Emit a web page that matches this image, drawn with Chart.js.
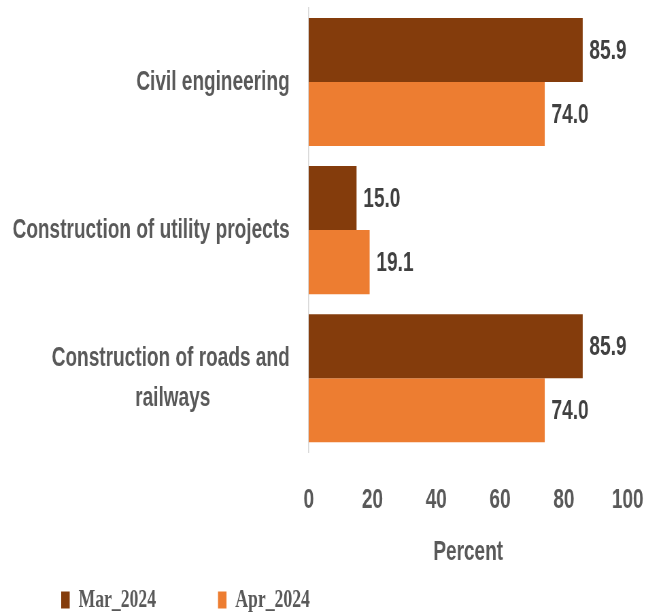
<!DOCTYPE html>
<html>
<head>
<meta charset="utf-8">
<script src="https://cdn.jsdelivr.net/npm/chart.js@4.4.1/dist/chart.umd.min.js"></script>
<style>
  html, body { margin: 0; padding: 0; background: #ffffff; overflow: hidden; }
</style>
</head>
<body>
<canvas id="c" width="950" height="615" style="display:block;width:646px;height:615px;"></canvas>
<script>
// ---- data ----
const categories = ['Civil engineering', 'Construction of utility projects', ['Construction of roads and', 'railways']];
const seriesNames = ['Mar_2024', 'Apr_2024'];
const mar2024 = [85.9, 15.0, 85.9];
const apr2024 = [74.0, 19.1, 74.0];
const xTicks = [0, 20, 40, 60, 80, 100];
const axisTitle = 'Percent';

// ---- styling ----
const SANS = "'Liberation Sans', Arial, sans-serif";
const SERIF = "'Liberation Serif', 'Times New Roman', serif";
const GREY = '#595959';

const mctx = document.createElement('canvas').getContext('2d');
function centerLines(lines, font) {
  mctx.font = font;
  const w = lines.map(l => mctx.measureText(l).width);
  const max = Math.max(...w);
  const sp = mctx.measureText('\u00A0').width;
  return lines.map((l, i) => l + '\u00A0'.repeat(Math.round((max - w[i]) / 2 / sp)));
}

const valueLabels = {
  id: 'valueLabels',
  afterDatasetsDraw(chart) {
    const ctx = chart.ctx;
    ctx.save();
    ctx.font = 'bold 28px ' + SANS;
    ctx.fillStyle = '#404040';
    ctx.textAlign = 'left';
    ctx.textBaseline = 'middle';
    chart.data.datasets.forEach((ds, di) => {
      const meta = chart.getDatasetMeta(di);
      meta.data.forEach((el, i) => {
        ctx.fillText(ds.data[i].toFixed(1), el.x + 10, el.y + 1);
      });
    });
    ctx.restore();
  }
};

const LEG_PAD = 91;
const legendPlace = {
  id: 'legendPlace',
  afterLayout(chart) {
    const lg = chart.legend;
    if (!lg) return;
    lg.left = 90 - LEG_PAD;
    lg.top = 600 - 13 - LEG_PAD;
  }
};

new Chart(document.getElementById('c'), {
  type: 'bar',
  data: {
    labels: categories,
    datasets: [
      { label: seriesNames[0], data: mar2024, backgroundColor: '#843C0C', borderWidth: 0 },
      { label: seriesNames[1], data: apr2024, backgroundColor: '#ED7D31', borderWidth: 0 }
    ]
  },
  options: {
    indexAxis: 'y',
    responsive: false,
    animation: false,
    devicePixelRatio: 1,
    categoryPercentage: 0.865,
    barPercentage: 1.0,
    layout: { padding: { top: 8, right: 27, left: 0, bottom: 0 } },
    scales: {
      x: {
        min: 0, max: 100,
        afterBuildTicks(scale) { scale.ticks = xTicks.map(v => ({ value: v })); },
        grid: { display: false, drawTicks: true, tickLength: 31, color: 'rgba(0,0,0,0)' },
        border: { display: false },
        ticks: { font: { family: SANS, size: 28, weight: 'bold' }, color: GREY, padding: 0 },
        title: {
          display: true, text: axisTitle, color: GREY,
          font: { family: SANS, size: 28, weight: 'bold' },
          padding: { top: 18.6, bottom: 4 }
        }
      },
      y: {
        afterFit(scale) {
          scale.width = 454;
          scale.paddingTop = 0;
          scale.paddingBottom = 0;
        },
        grid: { display: false, drawTicks: true, tickLength: 28, color: 'rgba(0,0,0,0)' },
        border: { display: true, color: '#d9d9d9', width: 1.5 },
        ticks: {
          font: { family: SANS, size: 28, weight: 'bold', lineHeight: 1.45 },
          color: GREY,
          padding: 0,
          callback(v) {
            const lab = this.getLabelForValue(v);
            return Array.isArray(lab) ? centerLines(lab, 'bold 28px ' + SANS) : lab;
          }
        }
      }
    },
    plugins: {
      tooltip: { enabled: false },
      legend: {
        position: 'bottom',
        align: 'start',
        maxHeight: 42,
        labels: {
          boxWidth: 12.5, boxHeight: 17,
          padding: LEG_PAD,
          color: GREY,
          font: { family: SERIF, size: 26, weight: 'bold' }
        }
      }
    }
  },
  plugins: [valueLabels, legendPlace]
});
</script>
</body>
</html>
